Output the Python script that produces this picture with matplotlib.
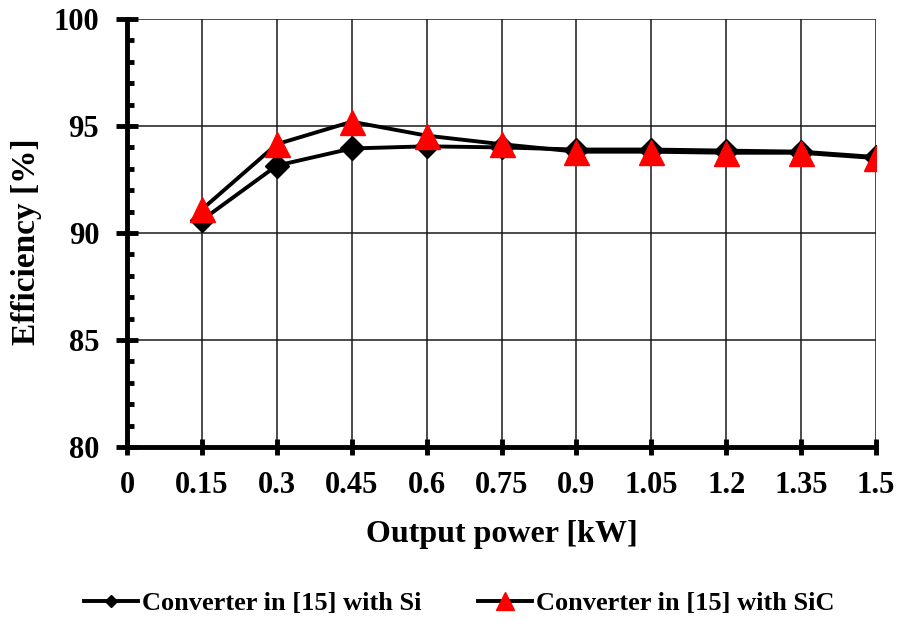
import matplotlib
matplotlib.use("Agg")
import matplotlib.pyplot as plt
from matplotlib.ticker import MultipleLocator

power_kw = [0.15, 0.3, 0.45, 0.6, 0.75, 0.9, 1.05, 1.2, 1.35, 1.5]
eff_si = [90.6, 93.15, 93.95, 94.05, 94.0, 93.9, 93.9, 93.85, 93.8, 93.55]
eff_sic = [91.1, 94.15, 95.2, 94.55, 94.15, 93.8, 93.8, 93.75, 93.75, 93.5]
x_ticks = [0, 0.15, 0.3, 0.45, 0.6, 0.75, 0.9, 1.05, 1.2, 1.35, 1.5]
x_tick_labels = ["0", "0.15", "0.3", "0.45", "0.6", "0.75", "0.9", "1.05", "1.2", "1.35", "1.5"]
y_ticks = [80, 85, 90, 95, 100]

plt.rcParams["font.family"] = ["Liberation Serif", "DejaVu Serif"]
plt.rcParams["font.weight"] = "bold"

fig = plt.figure(figsize=(9.02, 6.22), dpi=100)
ax = fig.add_axes([127 / 902, 1 - 447 / 622, (876 - 127) / 902, (447 - 19) / 622])

ax.plot(power_kw, eff_si, color="black", lw=2.8, marker="D", ms=12.5,
        mfc="black", mec="black", label="Converter in [15] with Si", zorder=3)
ax.plot(power_kw, eff_sic, color="black", lw=2.8, marker="^", ms=18,
        mfc="red", mec="red", label="Converter in [15] with SiC", zorder=4)

ax.set_xlim(0, 1.5)
ax.set_ylim(80, 100)
ax.set_xticks(x_ticks)
ax.set_xticklabels(x_tick_labels)
ax.set_yticks(y_ticks)
ax.yaxis.set_minor_locator(MultipleLocator(1))

ax.grid(True, which="major", color="#1a1a1a", lw=1.1)
ax.set_axisbelow(True)
for side in ("top", "right"):
    ax.spines[side].set_visible(False)
for side in ("left", "bottom"):
    ax.spines[side].set_linewidth(3.5)

ax.tick_params(axis="x", which="major", direction="inout", length=12, width=3.5,
               labelsize=22, pad=11)
ax.tick_params(axis="y", which="major", direction="inout", length=16, width=3.5,
               labelsize=22, pad=12)
ax.tick_params(axis="y", which="minor", direction="in", length=5, width=3.5)
for lbl in ax.get_xticklabels() + ax.get_yticklabels():
    lbl.set_fontweight("bold")

ax.set_xlabel("Output power [kW]", fontsize=23, fontweight="bold", labelpad=15)
ax.set_ylabel("Efficiency [%]", fontsize=24, fontweight="bold")
ax.yaxis.set_label_coords(-0.113, 0.479)

leg = fig.legend(loc="center", bbox_to_anchor=(0.509, 1 - 603 / 622), ncol=2,
                 frameon=False, prop={"weight": "bold", "size": 19},
                 handlelength=2.05, columnspacing=2.15, handletextpad=0.15)
leg.legend_handles[0].set_markersize(6)
leg.legend_handles[1].set_markersize(13.5)

fig.savefig("out.png", dpi=100)
